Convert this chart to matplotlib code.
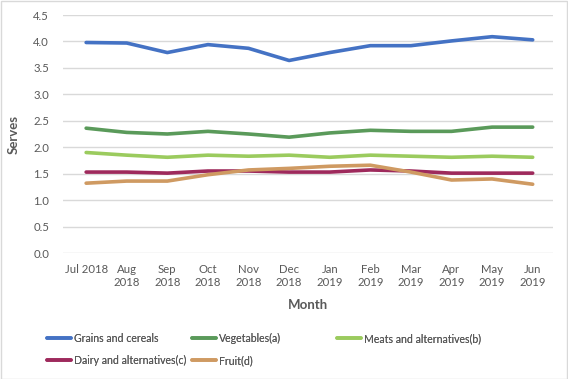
import matplotlib
matplotlib.use("Agg")
import matplotlib.pyplot as plt
from matplotlib.patches import Rectangle

months = ["Jul 2018", "Aug\n2018", "Sep\n2018", "Oct\n2018", "Nov\n2018", "Dec\n2018",
          "Jan\n2019", "Feb\n2019", "Mar\n2019", "Apr\n2019", "May\n2019", "Jun\n2019"]
grains = [3.98, 3.97, 3.79, 3.94, 3.87, 3.64, 3.79, 3.92, 3.92, 4.01, 4.09, 4.03]
vegetables = [2.36, 2.28, 2.25, 2.30, 2.25, 2.19, 2.27, 2.32, 2.30, 2.30, 2.38, 2.38]
meats = [1.90, 1.85, 1.81, 1.85, 1.83, 1.85, 1.81, 1.85, 1.83, 1.81, 1.83, 1.81]
dairy = [1.53, 1.53, 1.51, 1.55, 1.55, 1.53, 1.53, 1.57, 1.55, 1.51, 1.51, 1.51]
fruit = [1.32, 1.36, 1.36, 1.48, 1.57, 1.60, 1.64, 1.66, 1.53, 1.38, 1.40, 1.30]

series = [
    ("Grains and cereals", grains, "#4472C4"),
    ("Vegetables(a)", vegetables, "#5A9A5A"),
    ("Meats and alternatives(b)", meats, "#9BCB5E"),
    ("Dairy and alternatives(c)", dairy, "#9E2A5C"),
    ("Fruit(d)", fruit, "#CF9A62"),
]

plt.rcParams['font.family'] = ['Lato', 'Liberation Sans', 'DejaVu Sans']

W, H = 568, 379
fig = plt.figure(figsize=(W / 100, H / 100), dpi=100)
ax = fig.add_axes([63 / W, 1 - 253 / H, (553 - 63) / W, (253 - 15) / H])

x = list(range(len(months)))
lines = []
for name, vals, col in series:
    l, = ax.plot(x, vals, color=col, lw=2.6, label=name, solid_capstyle='round')
    lines.append(l)

ax.set_xlim(-0.57, len(months) - 0.5)
ax.set_ylim(0, 4.5)
ax.set_yticks([i * 0.5 for i in range(10)])
ax.set_yticklabels([f"{i * 0.5:.1f}" for i in range(10)])
ax.set_xticks(x)
ax.set_xticklabels(months)
ax.grid(axis='y', color='#D9D9D9', lw=1)
ax.set_axisbelow(True)
for s in ax.spines.values():
    s.set_visible(False)
ax.tick_params(length=0, labelsize=8.2, colors='#595959', pad=8)
ax.tick_params(axis='y', pad=10)
ax.set_xlabel("Month", fontsize=9.5, fontweight='bold', color='#595959', labelpad=8)
ax.set_ylabel("Serves", fontsize=9.5, fontweight='bold', color='#595959', labelpad=10)

cols = [[lines[0], lines[3]], [lines[1], lines[4]], [lines[2]]]
xs = [47, 192, 337]
for hs, x0 in zip(cols, xs):
    leg = fig.legend(handles=hs, loc='upper left', bbox_to_anchor=(x0 / W, 1 - 333 / H),
                     frameon=False, fontsize=7.6, handlelength=2.3, handletextpad=0.25,
                     labelspacing=1.05, labelcolor='#595959', borderaxespad=0, borderpad=0)
    fig.add_artist(leg)

fig.patches.append(Rectangle((0.5 / W, 0.5 / H), 1 - 1.5 / W, 1 - 1.5 / H, transform=fig.transFigure,
                             fill=False, edgecolor='#D9D9D9', lw=1))
fig.savefig("out.png", dpi=100)
